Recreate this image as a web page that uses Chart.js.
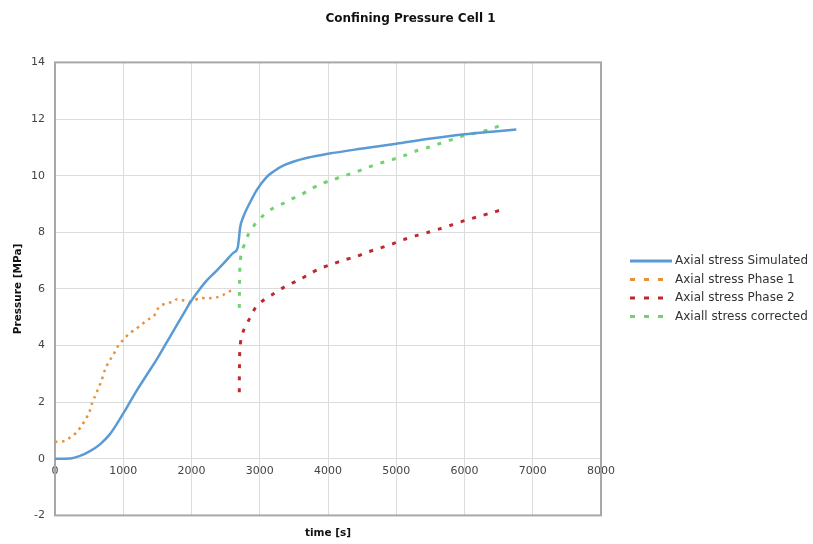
<!DOCTYPE html>
<html>
<head>
<meta charset="utf-8">
<script src="https://cdn.jsdelivr.net/npm/chart.js@4/dist/chart.umd.min.js"></script>
<style>
  html, body { margin: 0; padding: 0; background: #ffffff; }
  #wrap { width: 813px; height: 544px; }
</style>
</head>
<body>
<div id="wrap"><canvas id="c" width="813" height="544"></canvas></div>
<script>
const chartTitle = 'Confining Pressure Cell 1';
const xAxisTitle = 'time [s]';
const yAxisTitle = 'Pressure [MPa]';
const xTicks = [0, 1000, 2000, 3000, 4000, 5000, 6000, 7000, 8000];
const yTicks = [-2, 0, 2, 4, 6, 8, 10, 12, 14];
const seriesNames = ['Axial stress Simulated', 'Axial stress Phase 1', 'Axial stress Phase 2', 'Axiall stress corrected'];

const simTime = [0, 220, 366, 512, 659, 805, 927, 1049, 1195, 1341, 1488, 1634, 1780, 1927, 1980, 2098, 2225, 2350, 2469, 2613, 2676, 2696, 2711, 2760, 2857, 2958, 3100, 3203, 3350, 3500, 3700, 4000, 4480, 5000, 5510, 6000, 6400, 6760];
const simStress = [0, 0.01, 0.1, 0.27, 0.51, 0.87, 1.31, 1.8, 2.4, 2.95, 3.5, 4.1, 4.7, 5.3, 5.52, 5.92, 6.3, 6.6, 6.9, 7.27, 7.45, 7.8, 8.15, 8.55, 9.05, 9.5, 9.95, 10.15, 10.36, 10.5, 10.63, 10.77, 10.95, 11.13, 11.31, 11.46, 11.55, 11.63];

const ph1Time = [0, 146, 244, 317, 390, 439, 502, 537, 585, 634, 683, 741, 805, 854, 927, 1000, 1088, 1171, 1268, 1366, 1449, 1498, 1561, 1659, 1732, 1780, 1854, 1927, 1980, 2122, 2240, 2367, 2465, 2563, 2600];
const ph1Stress = [0.6, 0.63, 0.8, 0.93, 1.17, 1.35, 1.64, 1.92, 2.2, 2.48, 2.77, 3.2, 3.49, 3.67, 3.99, 4.2, 4.42, 4.56, 4.74, 4.92, 5.04, 5.27, 5.42, 5.51, 5.54, 5.63, 5.61, 5.57, 5.55, 5.67, 5.67, 5.7, 5.79, 5.92, 5.95];

const ph2Time = [2700, 2701, 2703, 2708, 2730, 2775, 2853, 2936, 3069, 3191, 3319, 3461, 3598, 3745, 3892, 4054, 4235, 4407, 4578, 4760, 4936, 5108, 5289, 5471, 5647, 5828, 6010, 6186, 6368, 6564];
const ph2Stress = [2.35, 2.82, 3.31, 3.81, 4.29, 4.6, 4.96, 5.33, 5.63, 5.81, 6.01, 6.19, 6.35, 6.55, 6.73, 6.87, 7.02, 7.14, 7.3, 7.44, 7.58, 7.74, 7.88, 8.0, 8.13, 8.27, 8.42, 8.54, 8.67, 8.81];

const corTime = [2700, 2702, 2705, 2710, 2730, 2780, 2838, 2936, 3059, 3181, 3319, 3461, 3598, 3745, 3892, 4064, 4245, 4422, 4593, 4765, 4946, 5118, 5289, 5485, 5657, 5838, 6015, 6196, 6377, 6564];
const corStress = [5.33, 5.81, 6.29, 6.79, 7.26, 7.6, 7.95, 8.3, 8.61, 8.83, 8.99, 9.17, 9.32, 9.52, 9.7, 9.85, 10.0, 10.14, 10.3, 10.44, 10.57, 10.71, 10.87, 11.01, 11.15, 11.29, 11.43, 11.52, 11.64, 11.81];

function pts(xs, ys) { return xs.map((x, i) => ({ x: x, y: ys[i] })); }

const FONT = '"DejaVu Sans", Verdana, sans-serif';
const colors = ['#5b9bd5', '#e8903a', '#c0282d', '#6fd36f'];
const dashes = [[], [2.5, 4.5], [4, 8], [4, 8]];
const widths = [2.5, 2.5, 3, 3];

const legendPlugin = {
  id: 'customLegend',
  afterDraw(chart) {
    const ctx = chart.ctx;
    ctx.save();
    const x0 = 630, x1 = 672, tx = 675;
    const rows = [261, 279.5, 298, 316.5];
    ctx.font = '12px ' + FONT;
    ctx.textBaseline = 'middle';
    ctx.fillStyle = '#333333';
    seriesNames.forEach((name, i) => {
      ctx.beginPath();
      ctx.strokeStyle = colors[i];
      ctx.lineWidth = 3;
      ctx.setLineDash(i === 0 ? [] : [5, 9]);
      ctx.moveTo(x0, rows[i]);
      ctx.lineTo(x1, rows[i]);
      ctx.stroke();
      ctx.setLineDash([]);
      ctx.fillText(name, tx, rows[i]);
    });
    ctx.restore();
  }
};

const borderPlugin = {
  id: 'plotBorder',
  beforeDatasetsDraw(chart) {
    const a = chart.chartArea;
    const ctx = chart.ctx;
    ctx.save();
    ctx.strokeStyle = '#a8a8a8';
    ctx.lineWidth = 2;
    ctx.strokeRect(a.left, a.top, a.right - a.left, a.bottom - a.top);
    ctx.restore();
  }
};

new Chart(document.getElementById('c'), {
  type: 'line',
  data: {
    datasets: [
      { label: seriesNames[0], data: pts(simTime, simStress), borderColor: colors[0], borderWidth: widths[0], borderDash: dashes[0], pointRadius: 0, cubicInterpolationMode: 'monotone', fill: false },
      { label: seriesNames[1], data: pts(ph1Time, ph1Stress), borderColor: colors[1], borderWidth: widths[1], borderDash: dashes[1], pointRadius: 0, tension: 0.3, fill: false },
      { label: seriesNames[2], data: pts(ph2Time, ph2Stress), borderColor: colors[2], borderWidth: widths[2], borderDash: dashes[2], pointRadius: 0, tension: 0.3, fill: false },
      { label: seriesNames[3], data: pts(corTime, corStress), borderColor: colors[3], borderWidth: widths[3], borderDash: dashes[3], pointRadius: 0, tension: 0.3, fill: false }
    ]
  },
  options: {
    responsive: false,
    animation: false,
    layout: { padding: { left: 8, right: 0, top: 0, bottom: 0 } },
    plugins: {
      legend: { display: false },
      tooltip: { enabled: false },
      title: {
        display: true,
        text: chartTitle,
        color: '#111111',
        font: { family: FONT, size: 12, weight: 'bold' },
        padding: { top: 12, bottom: 36 }
      }
    },
    scales: {
      x: {
        type: 'linear',
        position: 'bottom',
        min: 0, max: 8000,
        ticks: { display: false },
        afterBuildTicks(scale) { scale.ticks = xTicks.map(v => ({ value: v })); },
        grid: { color: '#dcdcdc', lineWidth: 1, drawTicks: false },
        border: { display: false },
        title: { display: true, text: xAxisTitle, color: '#111111', font: { family: FONT, size: 10.5, weight: 'bold' }, padding: { top: 12, bottom: 4 } }
      },
      xl: {
        type: 'linear',
        axis: 'x',
        position: { y: 0 },
        min: 0, max: 8000,
        afterBuildTicks(scale) { scale.ticks = xTicks.map(v => ({ value: v })); },
        ticks: { color: '#444444', font: { family: FONT, size: 11 }, padding: 6, maxRotation: 0, autoSkip: false, callback: v => String(v) },
        grid: { display: false, drawTicks: false },
        border: { display: false }
      },
      y: {
        type: 'linear',
        position: 'left',
        min: -2, max: 14,
        afterBuildTicks(scale) { scale.ticks = yTicks.map(v => ({ value: v })); },
        afterFit(scale) { scale.width = 47; },
        ticks: { color: '#444444', font: { family: FONT, size: 11 }, padding: 10, callback: v => String(v) },
        grid: { color: '#dcdcdc', lineWidth: 1, drawTicks: false },
        border: { display: false },
        title: { display: true, text: yAxisTitle, color: '#111111', font: { family: FONT, size: 10.5, weight: 'bold' }, padding: { top: 4, bottom: 4 } }
      },
      yr: {
        type: 'linear',
        position: 'right',
        min: -2, max: 14,
        afterFit(scale) { scale.width = 212; },
        ticks: { display: false },
        grid: { display: false, drawTicks: false },
        border: { display: false }
      }
    }
  },
  plugins: [borderPlugin, legendPlugin]
});
</script>
</body>
</html>
